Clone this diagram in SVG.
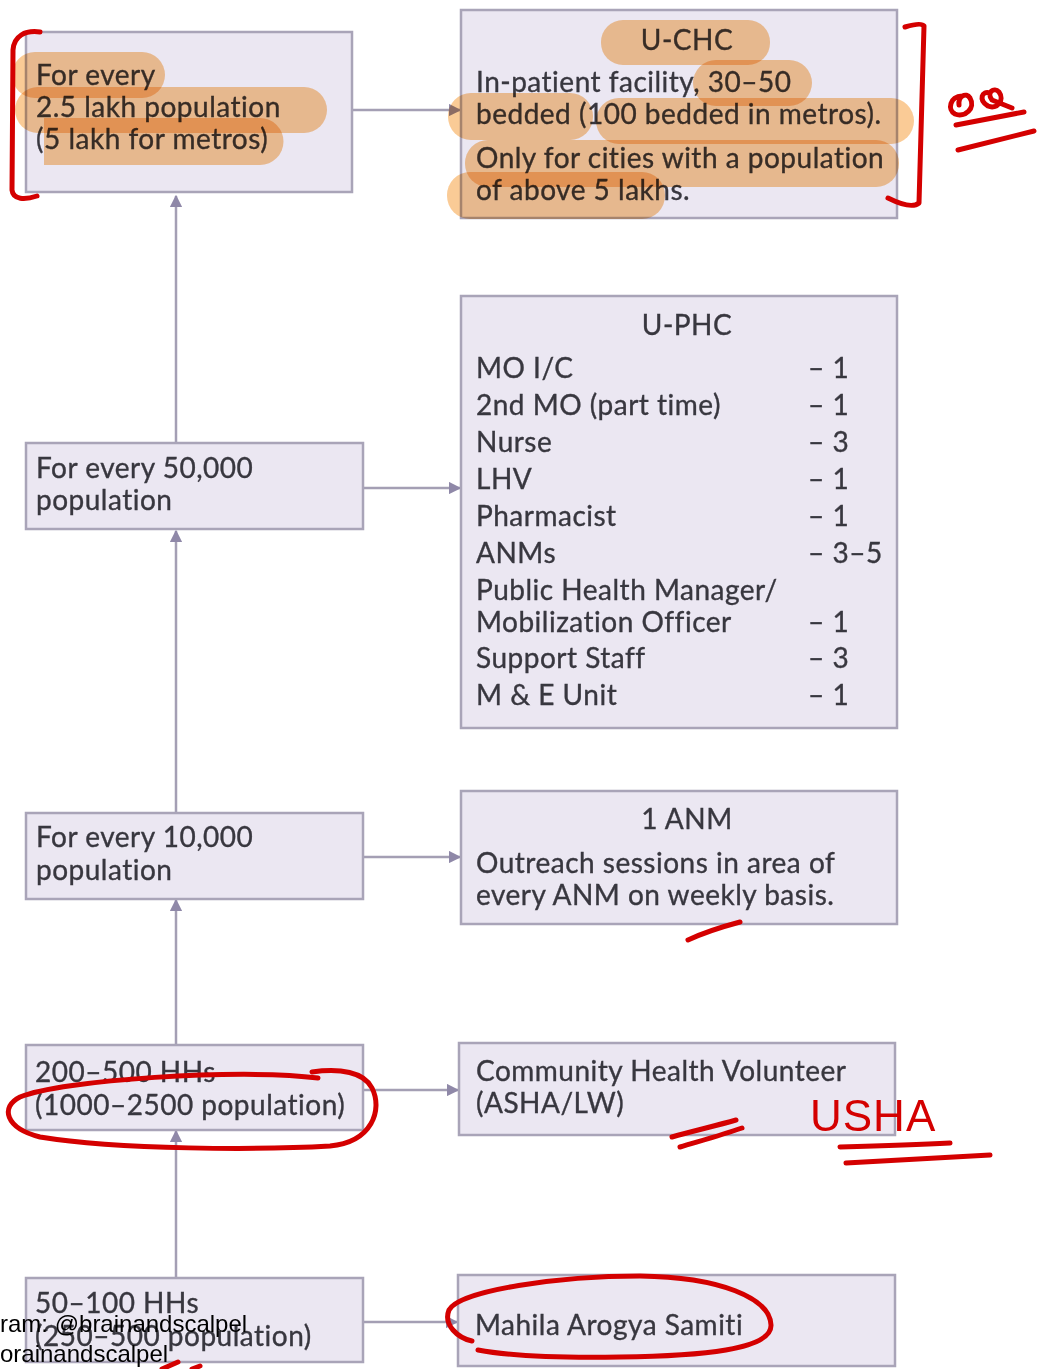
<svg xmlns="http://www.w3.org/2000/svg" width="1038" height="1369" viewBox="0 0 1038 1369">
<defs>
<style>
.box{fill:#ebe7f2;stroke:#a9a4b8;stroke-width:2.5}
.t{font-family:Lato,"Open Sans",sans-serif;font-size:28px;letter-spacing:0.5px;fill:#38373f;stroke:#38373f;stroke-width:0.35}
.c{text-anchor:middle}
.ln{stroke:#a49fb4;stroke-width:2.5;fill:none}
.hl{fill:#f6a040;opacity:0.55;mix-blend-mode:multiply}
.red{stroke:#d40000;stroke-width:5;fill:none;stroke-linecap:round;stroke-linejoin:round}
.wm{font-family:"Liberation Sans",Arial,sans-serif;font-size:24px;fill:#000}
</style>
<marker id="ah" viewBox="0 0 10 10" refX="9" refY="5" markerWidth="5" markerHeight="5" orient="auto" markerUnits="strokeWidth">
<path d="M0,0 L10,5 L0,10 z" fill="#8f88a8"/>
</marker>
</defs>
<rect width="1038" height="1369" fill="#fff"/>

<g id="connectors">
<line class="ln" x1="176" y1="443" x2="176" y2="196" marker-end="url(#ah)"/>
<line class="ln" x1="176" y1="813" x2="176" y2="531" marker-end="url(#ah)"/>
<line class="ln" x1="176" y1="1045" x2="176" y2="900" marker-end="url(#ah)"/>
<line class="ln" x1="176" y1="1278" x2="176" y2="1131" marker-end="url(#ah)"/>
<line class="ln" x1="352" y1="110" x2="460" y2="110" marker-end="url(#ah)"/>
<line class="ln" x1="363" y1="488" x2="460" y2="488" marker-end="url(#ah)"/>
<line class="ln" x1="363" y1="857" x2="460" y2="857" marker-end="url(#ah)"/>
<line class="ln" x1="363" y1="1090" x2="458" y2="1090" marker-end="url(#ah)"/>
<line class="ln" x1="363" y1="1322" x2="457" y2="1322" marker-end="url(#ah)"/>
</g>

<g id="n-lakh">
<rect class="box" x="26" y="32" width="326" height="160"/>
<text class="t" x="36" y="85">For every</text>
<text class="t" x="36" y="117">2.5 lakh population</text>
<text class="t" x="36" y="149">(5 lakh for metros)</text>
</g>
<g id="n-uchc">
<rect class="box" x="461" y="10" width="436" height="208"/>
<text class="t c" x="687" y="50">U-CHC</text>
<text class="t" x="476" y="92">In-patient facility, 30–50</text>
<text class="t" x="476" y="124">bedded (100 bedded in metros).</text>
<text class="t" x="476" y="168">Only for cities with a population</text>
<text class="t" x="476" y="200">of above 5 lakhs.</text>
</g>
<g id="n-50000">
<rect class="box" x="26" y="443" width="337" height="86"/>
<text class="t" x="36" y="478">For every 50,000</text>
<text class="t" x="36" y="510">population</text>
</g>
<g id="n-uphc">
<rect class="box" x="461" y="296" width="436" height="432"/>
<text class="t c" x="687" y="335">U-PHC</text>
<text class="t" x="476" y="378">MO I/C</text><text class="t" x="808" y="378">– 1</text>
<text class="t" x="476" y="415">2nd MO (part time)</text><text class="t" x="808" y="415">– 1</text>
<text class="t" x="476" y="452">Nurse</text><text class="t" x="808" y="452">– 3</text>
<text class="t" x="476" y="489">LHV</text><text class="t" x="808" y="489">– 1</text>
<text class="t" x="476" y="526">Pharmacist</text><text class="t" x="808" y="526">– 1</text>
<text class="t" x="476" y="563">ANMs</text><text class="t" x="808" y="563">– 3–5</text>
<text class="t" x="476" y="600">Public Health Manager/</text>
<text class="t" x="476" y="632">Mobilization Officer</text><text class="t" x="808" y="632">– 1</text>
<text class="t" x="476" y="668">Support Staff</text><text class="t" x="808" y="668">– 3</text>
<text class="t" x="476" y="705">M &amp; E Unit</text><text class="t" x="808" y="705">– 1</text>
</g>
<g id="n-10000">
<rect class="box" x="26" y="813" width="337" height="86"/>
<text class="t" x="36" y="847">For every 10,000</text>
<text class="t" x="36" y="880">population</text>
</g>
<g id="n-anm">
<rect class="box" x="461" y="791" width="436" height="133"/>
<text class="t c" x="687" y="829">1 ANM</text>
<text class="t" x="476" y="873">Outreach sessions in area of</text>
<text class="t" x="476" y="905">every ANM on weekly basis.</text>
</g>
<g id="n-hh200">
<rect class="box" x="26" y="1045" width="337" height="85"/>
<text class="t" x="35" y="1082">200–500 HHs</text>
<text class="t" x="35" y="1115">(1000–2500 population)</text>
</g>
<g id="n-chv">
<rect class="box" x="459" y="1043" width="436" height="92"/>
<text class="t" x="476" y="1081">Community Health Volunteer</text>
<text class="t" x="476" y="1113">(ASHA/LW)</text>
</g>
<g id="n-hh50">
<rect class="box" x="26" y="1278" width="337" height="84"/>
<text class="t" x="35" y="1313">50–100 HHs</text>
<text class="t" x="35" y="1346">(250–500 population)</text>
</g>
<g id="n-mas">
<rect class="box" x="458" y="1275" width="437" height="91"/>
<text class="t" x="475" y="1335">Mahila Arogya Samiti</text>
</g>

<g id="highlights">
<rect class="hl" x="12" y="52" width="153" height="46" rx="23"/>
<rect class="hl" x="15" y="87" width="312" height="46" rx="23"/>
<path class="hl" d="M44,118 H260 A23,23 0 0 1 260,165 H44 z"/>
<rect class="hl" x="601" y="20" width="169" height="45" rx="22"/>
<rect class="hl" x="693" y="60" width="119" height="46" rx="23"/>
<rect class="hl" x="448" y="93" width="145" height="47" rx="23"/>
<rect class="hl" x="596" y="98" width="318" height="46" rx="23"/>
<rect class="hl" x="465" y="140" width="434" height="47" rx="23"/>
<rect class="hl" x="447" y="172" width="218" height="47" rx="23"/>
</g>

<g id="annotations">
<path class="red" d="M40,32 C25,30 14,36 13,50 L12,190 C13,200 25,200 37,196"/>
<path class="red" d="M905,27 C915,24 922,23 924,26 L919,203 C913,208 900,204 888,198"/>
<path class="red" d="M962,96 C950,96 947,110 955,114 C965,118 976,108 970,98 C966,92 958,96 959,105 M990,93 C982,90 978,100 988,106 C997,110 1005,100 999,92 C994,87 986,92 992,100 L1012,108"/>
<path class="red" d="M956,125 L1024,112 M958,150 L1034,131"/>
<path class="red" d="M688,940 C705,932 725,926 740,922"/>
<path class="red" d="M672,1137 C693,1131 715,1126 736,1120 M680,1147 C700,1141 722,1135 742,1128"/>
<text x="810" y="1131" style="font-family:'Liberation Sans',sans-serif;font-size:44px;fill:#d40000;letter-spacing:1px">USHA</text>
<path class="red" d="M840,1147 C880,1146 915,1145 950,1143 M846,1163 C900,1160 950,1157 990,1155"/>
<path class="red" d="M318,1078 C240,1068 60,1080 20,1097 C0,1107 5,1128 40,1137 C120,1150 260,1150 330,1146 C372,1142 383,1110 372,1088 C364,1072 340,1068 312,1072"/>
<path class="red" d="M472,1341 C458,1338 443,1325 449,1310 C460,1290 560,1276 640,1276 C720,1277 770,1298 771,1325 C772,1350 700,1356 620,1357 C560,1358 510,1356 478,1350"/>
<path class="red" d="M162,1369 L178,1362 M192,1369 L200,1366"/>
</g>

<g id="watermark">
<text class="wm" x="0" y="1332">ram: @brainandscalpel</text>
<text class="wm" x="0" y="1362">orainandscalpel</text>
</g>
</svg>
